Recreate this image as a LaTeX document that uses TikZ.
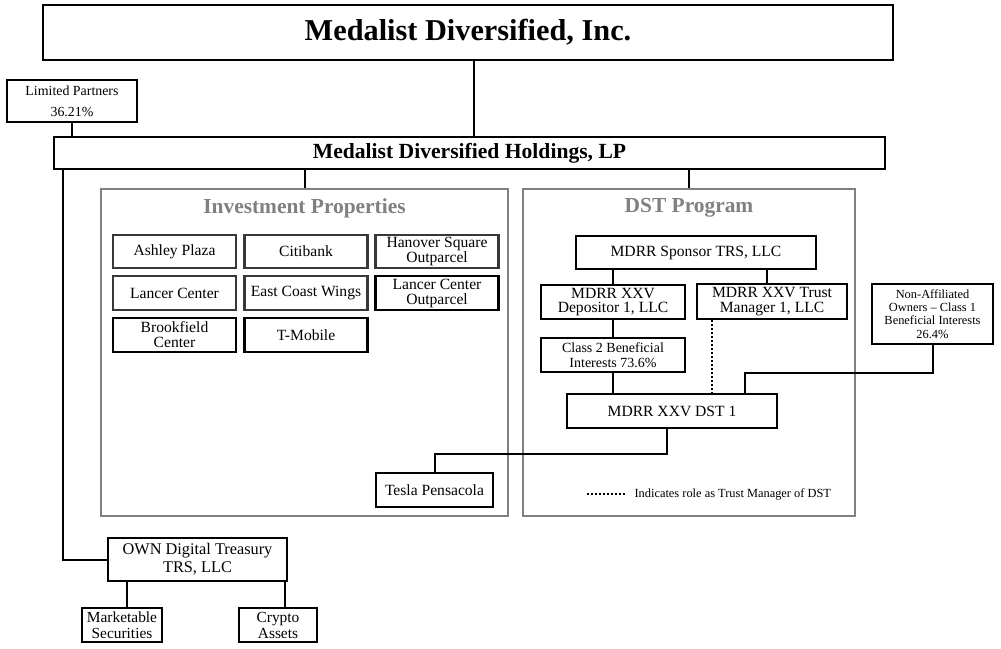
\documentclass[tikz,border=0pt]{standalone}
\usepackage{fontspec}
\setmainfont{Liberation Serif}
\usetikzlibrary{positioning}

\tikzset{
  entity/.style={draw, line width=2.2pt, align=center, inner sep=1pt,
    font=\fontsize{15.6}{15}\selectfont},
  propbox/.style={entity, draw=black!78, minimum width=123pt, minimum height=33.5pt},
  group/.style={draw=gray, line width=2pt},
  grouptitle/.style={font=\fontsize{21.4}{24}\selectfont\bfseries, text=gray},
  link/.style={line width=2pt},
  trustlink/.style={line width=2pt, dotted},
}

\begin{document}
\begin{tikzpicture}[x=1pt, y=-1pt]
    \useasboundingbox (0,0) rectangle (1001,648);

    % =========================================================
    % PARENT AND OPERATING PARTNERSHIP
    % =========================================================
    \node[entity, minimum width=850pt, minimum height=55pt,
      font=\fontsize{30.3}{32}\selectfont\bfseries] (mdi) at (468,32.5) {Medalist Diversified, Inc.};
    \node[entity, minimum width=130pt, minimum height=42pt,
      font=\fontsize{13.9}{21}\selectfont] (lp) at (72,101) {Limited Partners\\36.21\%};
    \node[entity, minimum width=831pt, minimum height=32pt,
      font=\fontsize{21.6}{24}\selectfont\bfseries] (mdh) at (469.5,153) {Medalist Diversified Holdings, LP};

    \draw[link] ([xshift=6pt]mdi.south) -- ([xshift=6pt]mdi.south |- mdh.north);
    \draw[link] (lp.south) -- (lp.south |- mdh.north);

    % =========================================================
    % INVESTMENT PROPERTIES
    % =========================================================
    \node[group, minimum width=407pt, minimum height=327pt] (inv) at (304.5,352.5) {};
    \node[grouptitle] (invtitle) at (304.5,208) {Investment Properties};
    \draw[link] (inv.north) -- (inv.north |- mdh.south);

    % Property grid
    \node[propbox] (ashley) at (174.5,251.5) {Ashley Plaza};
    \node[propbox] (citibank) at (306,251.5) {Citibank};
    \node[propbox] (hanover) at (437,251.5) {Hanover Square\\Outparcel};
    \node[propbox] (lancer) at (174.5,293) {Lancer Center};
    \node[propbox] (ecwings) at (306,293) {East Coast Wings};
    \node[propbox, draw=black] (lancerout) at (437,293) {Lancer Center\\Outparcel};
    \node[propbox, draw=black] (brookfield) at (174.5,335) {Brookfield\\Center};
    \node[propbox, draw=black] (tmobile) at (306,335) {T-Mobile};
    \node[entity, minimum width=117pt, minimum height=34pt] (tesla) at (434.5,490) {Tesla Pensacola};

    % =========================================================
    % DST PROGRAM
    % =========================================================
    \node[group, minimum width=332pt, minimum height=327pt] (dst) at (689,352.5) {};
    \node[grouptitle] (dsttitle) at (689,208) {DST Program};
    \draw[link] (dst.north) -- (dst.north |- mdh.south);

    \node[entity, minimum width=240pt, minimum height=33pt] (sponsor) at (696,252.5) {MDRR Sponsor TRS, LLC};
    \node[entity, minimum width=144pt, minimum height=34pt,
      font=\fontsize{15.6}{14}\selectfont] (dep) at (613,302) {MDRR XXV\\Depositor 1, LLC};
    \node[entity, minimum width=150pt, minimum height=35pt] (tm) at (772,301.5) {MDRR XXV Trust\\Manager 1, LLC};
    \node[entity, minimum width=144pt, minimum height=34pt,
      font=\fontsize{14}{15}\selectfont] (cls2) at (613,355) {Class 2 Beneficial\\Interests 73.6\%};
    \node[entity, minimum width=210pt, minimum height=34pt] (dst1) at (672,411) {MDRR XXV DST 1};
    \node[entity, minimum width=121pt, minimum height=60pt,
      font=\fontsize{12.4}{13.3}\selectfont] (naff) at (932.5,314) {Non-Affiliated\\Owners -- Class 1\\Beneficial Interests\\26.4\%};

    \draw[link] (dep.north) -- (dep.north |- sponsor.south);
    \draw[link] ([xshift=-5pt]tm.north) -- ([xshift=-5pt]tm.north |- sponsor.south);
    \draw[link] (dep) -- (cls2);
    \draw[link] (cls2.south) -- (cls2.south |- dst1.north);
    \draw[trustlink] ([xshift=-60pt]tm.south) -- ([xshift=-60pt]tm.south |- dst1.north);
    \draw[link] (naff.south) -- ++(0,28) -| ([xshift=73pt]dst1.north);
    \draw[link] ([xshift=-5pt]dst1.south) -- ++(0,25) -| (tesla.north);

    % Legend
    \node[anchor=west, font=\fontsize{12.4}{13}\selectfont] (legend) at (631,494) {Indicates role as Trust Manager of DST};
    \draw[trustlink] ([xshift=-44pt]legend.west) -- ([xshift=-6pt]legend.west);

    % =========================================================
    % DIGITAL TREASURY
    % =========================================================
    \node[entity, minimum width=179pt, minimum height=43pt,
      font=\fontsize{16.3}{18}\selectfont] (own) at (197.5,559.5) {OWN Digital Treasury\\TRS, LLC};
    \node[entity, minimum width=80pt, minimum height=34pt,
      font=\fontsize{15.4}{16}\selectfont] (mkt) at (122,625) {Marketable\\Securities};
    \node[entity, minimum width=78pt, minimum height=34pt,
      font=\fontsize{15.4}{16}\selectfont] (crypto) at (278,625) {Crypto\\Assets};

    \draw[link] ([xshift=10pt]mdh.south west) |- (own.west);
    \draw[link] ([xshift=5pt]mkt.north) -- ([xshift=5pt]mkt.north |- own.south);
    \draw[link] ([xshift=7pt]crypto.north) -- ([xshift=7pt]crypto.north |- own.south);
\end{tikzpicture}
\end{document}
